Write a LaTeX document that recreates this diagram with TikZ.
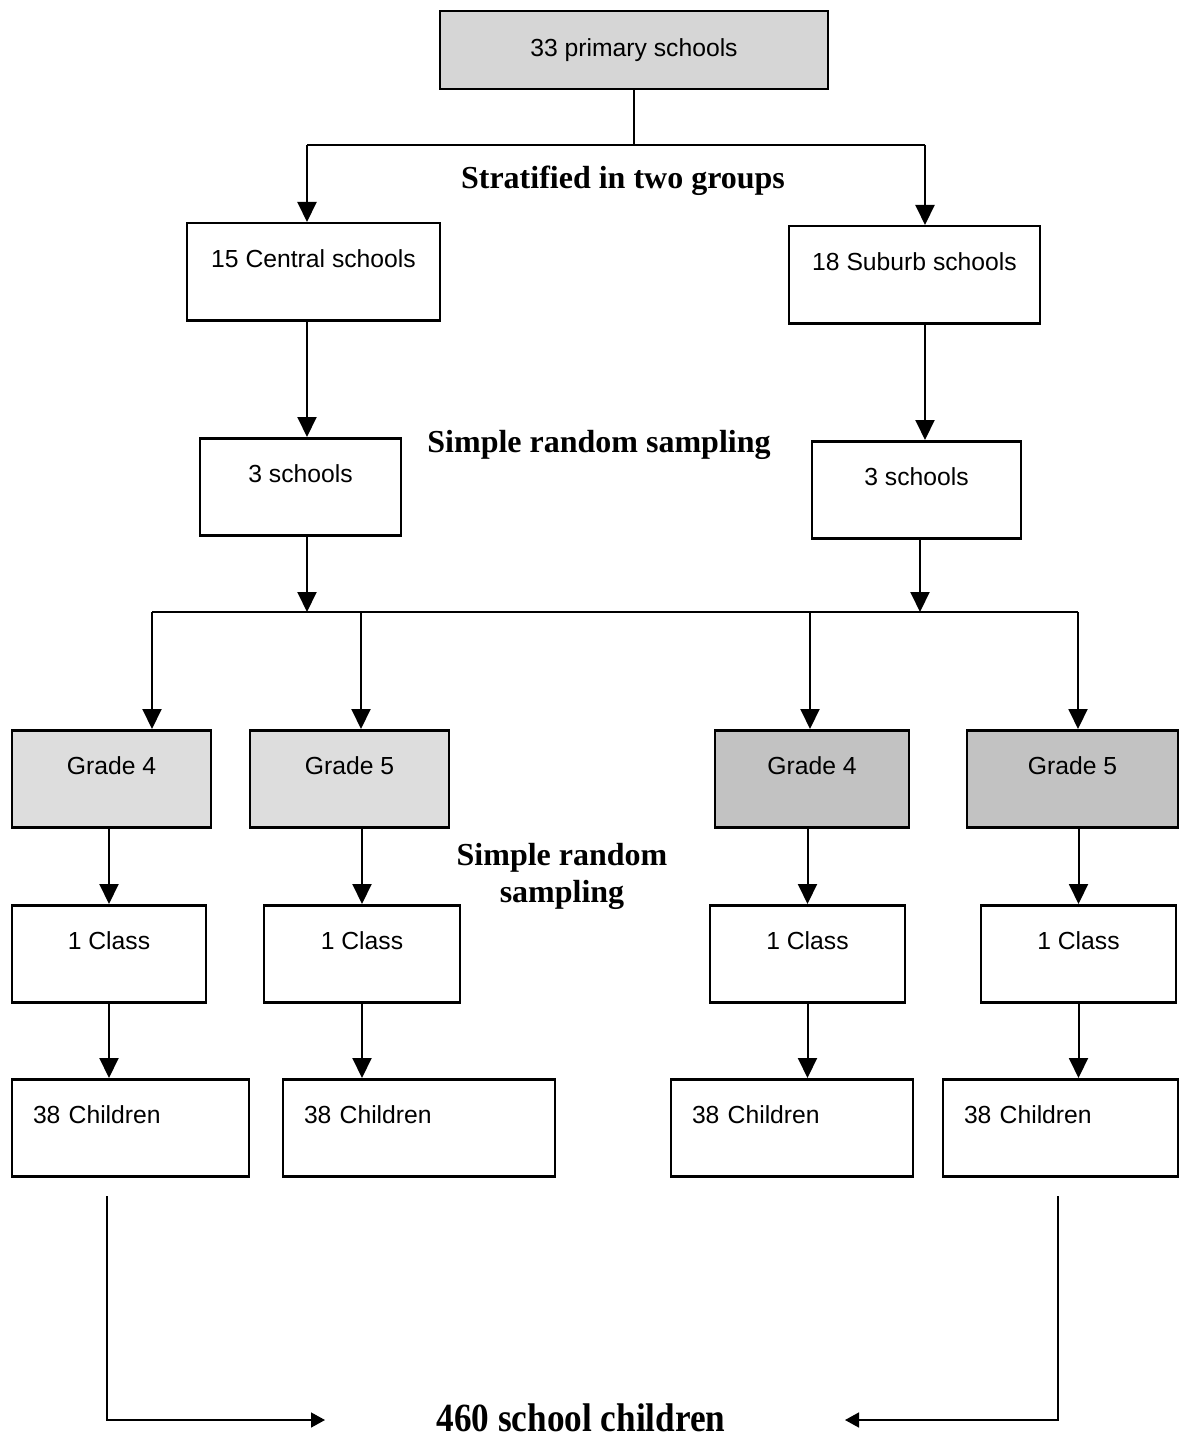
\documentclass[tikz,border=0pt]{standalone}
\usepackage{fontspec}
\setmainfont{Liberation Serif}
\newfontfamily\boxfont{Liberation Sans}
\usetikzlibrary{arrows.meta}

\begin{document}
\begin{tikzpicture}[
  x=1pt, y=-1pt,
  box/.style={draw=black, line width=2.5pt, inner sep=0pt, anchor=north,
    font=\boxfont\fontsize{24.7}{30}\selectfont, text height=44pt, text depth=53pt},
  kidbox/.style={box, align=left, inner xsep=21pt},
  tag/.style={font=\fontsize{32}{36}\selectfont\bfseries, align=center},
  arr/.style={line width=2pt, -{Triangle[length=20pt, width=19pt]}},
  thinarr/.style={line width=1.5pt, -{Triangle[length=14pt, width=15pt]}}
]
  \useasboundingbox (0,0) rectangle (1184,1439);

  % ==========================================
  % 1. CAJAS
  % ==========================================
  \node[box, fill=gray!32, minimum width=388pt, text height=45pt, text depth=33pt]
    (top) at (634,10) {33 primary schools};

  \node[box, minimum width=253pt] (central) at (313.5,222) {15 Central schools};
  \node[box, minimum width=251pt] (suburb)  at (914.5,225) {18 Suburb schools};

  \node[box, minimum width=201pt] (schoolsL) at (300.5,437) {3 schools};
  \node[box, minimum width=209pt] (schoolsR) at (916.5,440) {3 schools};

  \node[box, fill=gray!27, minimum width=199pt] (g4L) at (111.5,729) {Grade 4};
  \node[box, fill=gray!27, minimum width=199pt] (g5L) at (349.5,729) {Grade 5};
  \node[box, fill=gray!48, minimum width=194pt] (g4R) at (812,729)   {Grade 4};
  \node[box, fill=gray!48, minimum width=211pt] (g5R) at (1072.5,729) {Grade 5};

  \node[box, minimum width=194pt] (cl1) at (109,904)    {1 Class};
  \node[box, minimum width=196pt] (cl2) at (362,904)    {1 Class};
  \node[box, minimum width=195pt] (cl3) at (807.5,904)  {1 Class};
  \node[box, minimum width=195pt] (cl4) at (1078.5,904) {1 Class};

  \node[kidbox, text width=195pt] (ch1) at (130.5,1078) {38 Children};
  \node[kidbox, text width=230pt] (ch2) at (419,1078)   {38 Children};
  \node[kidbox, text width=200pt] (ch3) at (792,1078)   {38 Children};
  \node[kidbox, text width=193pt] (ch4) at (1060.5,1078) {38 Children};

  % ==========================================
  % 2. TEXTOS
  % ==========================================
  \node[tag] (strat) at (623,181) {Stratified in two groups};
  \node[tag] (srs1) at (599,445) {Simple random sampling};
  \node[tag] (srs2) at (562,876) {Simple random\\[1pt]sampling};
  \node[font=\fontsize{40}{44}\selectfont\bfseries] (total) at (581,1418)
    {\scalebox{0.88}[1]{460 school children}};

  % ==========================================
  % 3. FLECHAS
  % ==========================================
  \coordinate (splitA) at (307,145);
  \coordinate (splitB) at (925,145);
  \draw[line width=2pt] (top.south) -- (top.south |- splitA);
  \draw[line width=2pt] (splitA) -- (splitB);
  \draw[arr] (splitA) -- (splitA |- central.north);
  \draw[arr] (splitB) -- (splitB |- suburb.north);

  \draw[arr] (splitA |- central.south) -- (splitA |- schoolsL.north);
  \draw[arr] (splitB |- suburb.south) -- (splitB |- schoolsR.north);

  \coordinate (joinA) at (307,612);
  \coordinate (joinB) at (920,612);
  \draw[arr] (joinA |- schoolsL.south) -- (joinA);
  \draw[arr] (joinB |- schoolsR.south) -- (joinB);
  \draw[line width=2pt] (152,612) -- (1078,612);

  \foreach \x/\n/\c/\k in {152/g4L/cl1/ch1, 361/g5L/cl2/ch2, 810/g4R/cl3/ch3, 1078/g5R/cl4/ch4} {
    \coordinate (bus) at (\x,612);
    \draw[arr] (bus) -- (bus |- \n.north);
    \draw[arr] (\c.north |- \n.south) -- (\c.north);
    \draw[arr] (\c.south) -- (\c.south |- \k.north);
  }

  % ==========================================
  % 4. TOTAL
  % ==========================================
  \coordinate (outL) at (107,1196);
  \coordinate (outR) at (1058,1196);
  \coordinate (tipL) at (325,1420);
  \coordinate (tipR) at (845,1420);
  \draw[thinarr] (outL) -- (outL |- tipL) -- (tipL);
  \draw[thinarr] (outR) -- (outR |- tipR) -- (tipR);

\end{tikzpicture}
\end{document}
